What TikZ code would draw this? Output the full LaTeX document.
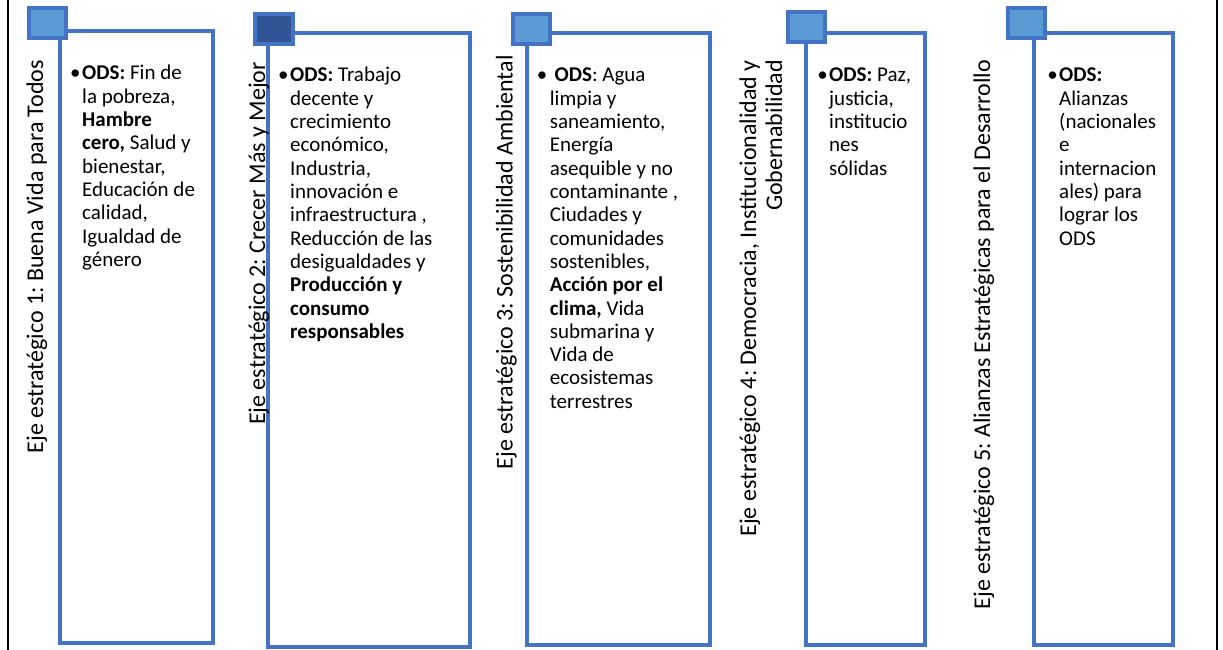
\documentclass[tikz,border=0pt]{standalone}
\usepackage{fontspec}
\setmainfont{Carlito}
\frenchspacing
\definecolor{acc}{HTML}{4472C4}
\definecolor{lightsq}{HTML}{5B9BD5}
\definecolor{darksq}{HTML}{2F5597}
\begin{document}
\begin{tikzpicture}[x=1pt,y=-1pt,
  frame/.style={draw=acc,line width=4pt},
  tab/.style={draw=acc,line width=4pt,fill=lightsq},
  tabdark/.style={tab,fill=darksq},
  eje/.style={rotate=90,anchor=base east,inner sep=0pt,font=\frenchspacing\fontsize{24}{29}\selectfont},
  ods/.style={anchor=base west,inner sep=0pt,text width=170pt,align=flush left,font=\frenchspacing\fontsize{21}{23.3}\selectfont}]
\newcommand{\bul}{\llap{•\kern1.5pt}}
\useasboundingbox (0,0) rectangle (1223,650);
% outer black side lines
\draw[line width=2pt] (7.7,0) coordinate (lt) -- (7.7,650) coordinate (lb);
\draw[line width=2pt] (1217,0) coordinate (rt) -- (1217,650) coordinate (rb);

% column 1
\draw[frame] (59.5,31.3) coordinate (b1a) rectangle (213,643) coordinate (b1b);
\draw[tab] (28.7,7.7) coordinate (s1a) rectangle (66.3,38) coordinate (s1b);
\node[eje] (e1) at (43,60) {Eje estratégico 1: Buena Vida para Todos};
\node[ods] (o1) at (82,80) {\bul\textbf{ODS:} Fin de\\la pobreza,\\\textbf{Hambre}\\\textbf{cero,} Salud y\\bienestar,\\Educación de\\calidad,\\Igualdad de\\género};

% column 2
\draw[frame] (267.7,32.7) coordinate (b2a) rectangle (470.3,647) coordinate (b2b);
\draw[tabdark] (255.3,13.7) coordinate (s2a) rectangle (293,43.7) coordinate (s2b);
\node[eje] (e2) at (265,62) {Eje estratégico 2: Crecer Más y Mejor};
\node[ods] (o2) at (290,82) {\bul\textbf{ODS:} Trabajo\\decente y\\crecimiento\\económico,\\Industria,\\innovación e\\infraestructura ,\\Reducción de las\\desigualdades y\\\textbf{Producción y}\\\textbf{consumo}\\\textbf{responsables}};

% column 3
\draw[frame] (527.2,32.7) coordinate (b3a) rectangle (710,645) coordinate (b3b);
\draw[tab] (512.7,13.7) coordinate (s3a) rectangle (549.7,43.7) coordinate (s3b);
\node[eje] (e3) at (512.5,55) {Eje estratégico 3: Sostenibilidad Ambiental};
\node[ods] (o3) at (549.7,82) {\llap{•\kern2.5pt}\ \textbf{ODS}: Agua\\limpia y\\saneamiento,\\Energía\\asequible y no\\contaminante ,\\Ciudades y\\comunidades\\sostenibles,\\\textbf{Acción por el}\\\textbf{clima,} Vida\\submarina y\\Vida de\\ecosistemas\\terrestres};

% column 4
\draw[frame] (806.3,32.7) coordinate (b4a) rectangle (924.5,645) coordinate (b4b);
\draw[tab] (787.7,12) coordinate (s4a) rectangle (825.3,42) coordinate (s4b);
\node[eje] (e4a) at (756,60) {Eje estratégico 4: Democracia, Institucionalidad y};
\node[eje] (e4b) at (782,60) {Gobernabilidad};
\node[ods] (o4) at (829,82) {\bul\textbf{ODS:} Paz,\\justicia,\\institucio\\nes\\sólidas};

% column 5
\draw[frame] (1034.3,32.7) coordinate (b5a) rectangle (1172.5,645) coordinate (b5b);
\draw[tab] (1007.7,7.7) coordinate (s5a) rectangle (1045.3,38) coordinate (s5b);
\node[eje] (e5) at (990,60) {Eje estratégico 5: Alianzas Estratégicas para el Desarrollo};
\node[ods] (o5) at (1059,82) {\bul\textbf{ODS:}\\Alianzas\\(nacionales\\e\\internacion\\ales) para\\lograr los\\ODS};
\end{tikzpicture}
\end{document}
